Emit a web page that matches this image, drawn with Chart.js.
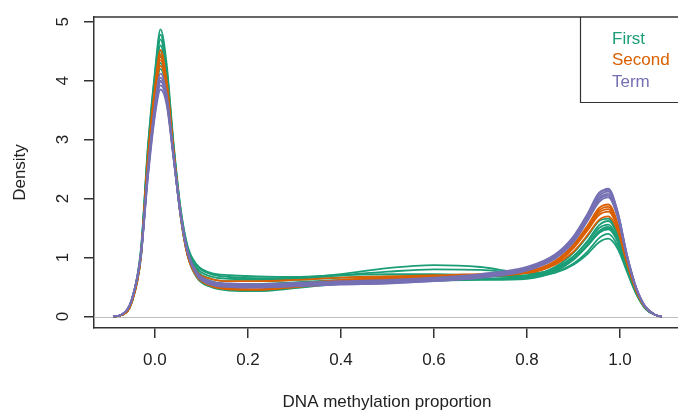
<!DOCTYPE html>
<html>
<head>
<meta charset="utf-8">
<script src="https://cdn.jsdelivr.net/npm/chart.js@4/dist/chart.umd.min.js"></script>
<style>
  html, body { margin: 0; padding: 0; background: #fff; overflow: hidden; }
  #wrap { width: 678px; height: 411px; position: relative; }
</style>
</head>
<body>
<div id="wrap"><canvas id="densityChart"></canvas></div>
<script>
// x positions (DNA methylation proportion) where the densities were read
const xs = [-0.09, -0.07, -0.05, -0.03, -0.015, 0.0, 0.012, 0.025, 0.04, 0.055, 0.07, 0.09, 0.12, 0.16, 0.22, 0.3,
  0.4, 0.5, 0.6, 0.7, 0.8, 0.86, 0.9, 0.93, 0.955, 0.975, 0.995, 1.015, 1.035, 1.055, 1.075, 1.09];

// First trimester samples
const firstCurves = [
  [0, 0.03, 0.27, 1.15, 2.9, 4.15, 4.87, 4.3, 2.95, 1.85, 1.2, 0.88, 0.74, 0.7, 0.68, 0.67, 0.7, 0.72, 0.72, 0.7, 0.68, 0.74, 0.88, 1.06, 1.26, 1.32, 1.15, 0.76, 0.38, 0.13, 0.03, 0],
  [0, 0.03, 0.26, 1.12, 2.85, 4.1, 4.78, 4.2, 2.9, 1.82, 1.18, 0.86, 0.72, 0.67, 0.65, 0.66, 0.72, 0.82, 0.87, 0.84, 0.74, 0.76, 0.9, 1.1, 1.33, 1.4, 1.2, 0.78, 0.39, 0.13, 0.03, 0],
  [0, 0.03, 0.26, 1.1, 2.8, 4.0, 4.7, 4.15, 2.88, 1.8, 1.15, 0.82, 0.68, 0.64, 0.63, 0.64, 0.7, 0.76, 0.8, 0.79, 0.73, 0.8, 0.98, 1.2, 1.42, 1.48, 1.27, 0.8, 0.4, 0.14, 0.03, 0],
  [0, 0.03, 0.25, 1.08, 2.75, 3.95, 4.6, 4.05, 2.85, 1.78, 1.12, 0.78, 0.64, 0.6, 0.6, 0.62, 0.66, 0.68, 0.68, 0.68, 0.7, 0.82, 1.02, 1.26, 1.5, 1.56, 1.33, 0.83, 0.41, 0.14, 0.03, 0],
  [0, 0.03, 0.25, 1.07, 2.7, 3.88, 4.5, 4.0, 2.82, 1.76, 1.1, 0.75, 0.6, 0.55, 0.55, 0.58, 0.62, 0.64, 0.64, 0.64, 0.66, 0.78, 0.98, 1.22, 1.45, 1.52, 1.3, 0.82, 0.4, 0.14, 0.03, 0],
  [0, 0.03, 0.24, 1.05, 2.65, 3.82, 4.42, 3.95, 2.8, 1.74, 1.08, 0.72, 0.56, 0.5, 0.5, 0.54, 0.6, 0.62, 0.62, 0.63, 0.67, 0.8, 1.02, 1.28, 1.55, 1.62, 1.38, 0.86, 0.42, 0.15, 0.03, 0],
  [0, 0.03, 0.24, 1.03, 2.6, 3.75, 4.3, 3.88, 2.76, 1.72, 1.06, 0.68, 0.52, 0.46, 0.45, 0.5, 0.58, 0.6, 0.61, 0.62, 0.64, 0.76, 0.96, 1.2, 1.42, 1.5, 1.28, 0.82, 0.4, 0.14, 0.03, 0],
  [0, 0.03, 0.23, 1.0, 2.55, 3.68, 4.2, 3.8, 2.72, 1.7, 1.04, 0.66, 0.5, 0.44, 0.43, 0.48, 0.56, 0.6, 0.62, 0.64, 0.68, 0.84, 1.08, 1.36, 1.62, 1.66, 1.4, 0.87, 0.42, 0.15, 0.03, 0]
];

// Second trimester samples
const secondCurves = [
  [0, 0.03, 0.25, 1.06, 2.7, 3.88, 4.52, 4.0, 2.8, 1.74, 1.06, 0.7, 0.54, 0.48, 0.46, 0.5, 0.58, 0.62, 0.66, 0.7, 0.76, 0.92, 1.18, 1.48, 1.76, 1.82, 1.52, 0.92, 0.44, 0.15, 0.03, 0],
  [0, 0.03, 0.25, 1.05, 2.68, 3.85, 4.45, 3.98, 2.82, 1.76, 1.1, 0.76, 0.64, 0.6, 0.6, 0.62, 0.66, 0.68, 0.7, 0.72, 0.74, 0.88, 1.1, 1.38, 1.64, 1.7, 1.45, 0.9, 0.43, 0.15, 0.03, 0],
  [0, 0.03, 0.24, 1.04, 2.64, 3.8, 4.35, 3.92, 2.78, 1.72, 1.04, 0.68, 0.52, 0.46, 0.45, 0.5, 0.56, 0.6, 0.64, 0.68, 0.75, 0.94, 1.22, 1.54, 1.84, 1.9, 1.58, 0.95, 0.45, 0.15, 0.03, 0],
  [0, 0.03, 0.24, 1.02, 2.6, 3.74, 4.25, 3.86, 2.76, 1.72, 1.06, 0.7, 0.55, 0.5, 0.5, 0.55, 0.62, 0.66, 0.68, 0.7, 0.74, 0.9, 1.16, 1.46, 1.72, 1.78, 1.5, 0.92, 0.44, 0.15, 0.03, 0],
  [0, 0.03, 0.25, 1.05, 2.66, 3.82, 4.4, 3.95, 2.8, 1.73, 1.05, 0.69, 0.53, 0.47, 0.46, 0.52, 0.6, 0.64, 0.67, 0.7, 0.76, 0.93, 1.2, 1.5, 1.8, 1.86, 1.55, 0.93, 0.44, 0.15, 0.03, 0]
];

// Term samples
const termCurves = [
  [0, 0.04, 0.28, 1.08, 2.5, 3.6, 4.12, 3.78, 2.75, 1.75, 1.1, 0.72, 0.56, 0.52, 0.51, 0.53, 0.56, 0.58, 0.62, 0.68, 0.8, 1.0, 1.3, 1.66, 2.0, 2.08, 1.72, 1.02, 0.48, 0.16, 0.03, 0],
  [0, 0.04, 0.28, 1.06, 2.45, 3.52, 4.0, 3.7, 2.72, 1.76, 1.12, 0.74, 0.58, 0.54, 0.53, 0.55, 0.58, 0.6, 0.64, 0.7, 0.82, 1.03, 1.34, 1.72, 2.08, 2.17, 1.78, 1.05, 0.49, 0.16, 0.03, 0],
  [0, 0.04, 0.28, 1.05, 2.4, 3.46, 3.92, 3.66, 2.7, 1.74, 1.1, 0.72, 0.56, 0.52, 0.5, 0.52, 0.55, 0.57, 0.6, 0.66, 0.78, 0.98, 1.26, 1.62, 1.94, 2.02, 1.68, 1.0, 0.47, 0.16, 0.03, 0],
  [0, 0.04, 0.29, 1.04, 2.36, 3.4, 3.85, 3.6, 2.68, 1.74, 1.12, 0.75, 0.6, 0.56, 0.55, 0.57, 0.6, 0.62, 0.66, 0.72, 0.84, 1.05, 1.36, 1.74, 2.1, 2.15, 1.76, 1.04, 0.48, 0.16, 0.03, 0],
  [0, 0.04, 0.28, 1.06, 2.44, 3.5, 3.98, 3.68, 2.7, 1.73, 1.08, 0.7, 0.54, 0.5, 0.49, 0.51, 0.54, 0.56, 0.6, 0.66, 0.79, 0.99, 1.28, 1.64, 1.98, 2.05, 1.7, 1.01, 0.47, 0.16, 0.03, 0],
  [0, 0.04, 0.28, 1.07, 2.48, 3.56, 4.05, 3.74, 2.73, 1.75, 1.1, 0.73, 0.57, 0.53, 0.52, 0.54, 0.57, 0.59, 0.63, 0.69, 0.81, 1.01, 1.32, 1.7, 2.04, 2.12, 1.75, 1.03, 0.48, 0.16, 0.03, 0]
];

const groupNames = ['First', 'Second', 'Term'];
const groupColors = ['#1B9E77', '#D95F02', '#7570B3'];
const xTicks = [0.0, 0.2, 0.4, 0.6, 0.8, 1.0];
const yTicks = [0, 1, 2, 3, 4, 5];

const FONT = '"Liberation Sans", Arial, Helvetica, sans-serif';

const datasets = [];
[firstCurves, secondCurves, termCurves].forEach((curves, g) => {
  curves.forEach((vals, i) => {
    datasets.push({
      label: groupNames[g] + ' ' + (i + 1),
      data: vals.map((v, k) => ({ x: xs[k], y: v })),
      borderColor: groupColors[g],
      borderWidth: 1.8,
      pointRadius: 0,
      fill: false,
      cubicInterpolationMode: 'monotone',
      order: 3 - g
    });
  });
});

const decorations = {
  id: 'decorations',
  beforeDatasetsDraw(chart) {
    const ctx = chart.ctx, ca = chart.chartArea;
    const y0 = chart.scales.y.getPixelForValue(0);
    ctx.save();
    ctx.strokeStyle = '#bdbdbd';
    ctx.lineWidth = 1;
    ctx.beginPath();
    ctx.moveTo(ca.left, Math.round(y0) + 0.5);
    ctx.lineTo(ca.right, Math.round(y0) + 0.5);
    ctx.stroke();
    ctx.restore();
  },
  afterDraw(chart) {
    const ctx = chart.ctx, ca = chart.chartArea, ys = chart.scales.y;
    ctx.save();
    // top of the box
    ctx.strokeStyle = '#333';
    ctx.lineWidth = 1.5;
    ctx.beginPath();
    ctx.moveTo(ca.left, ca.top);
    ctx.lineTo(ca.right, ca.top);
    ctx.stroke();

    ctx.fillStyle = '#222';
    ctx.font = '17px ' + FONT;
    ctx.textAlign = 'center';
    ctx.textBaseline = 'middle';
    yTicks.forEach(v => {
      ctx.save();
      ctx.translate(63, ys.getPixelForValue(v));
      ctx.rotate(-Math.PI / 2);
      ctx.fillText(String(v), 0, 0);
      ctx.restore();
    });
    ctx.save();
    ctx.translate(20, (ca.top + ca.bottom) / 2);
    ctx.rotate(-Math.PI / 2);
    ctx.fillText('Density', 0, 0);
    ctx.restore();
    ctx.fillText('DNA methylation proportion', 387, 402);

    // legend
    ctx.strokeStyle = '#333';
    ctx.lineWidth = 1.2;
    ctx.beginPath();
    ctx.moveTo(ca.right + 2, 102.5);
    ctx.lineTo(580.5, 102.5);
    ctx.lineTo(580.5, ca.top);
    ctx.stroke();
    ctx.textAlign = 'left';
    groupNames.forEach((name, i) => {
      ctx.fillStyle = groupColors[i];
      ctx.fillText(name, 612, 39 + i * 21.5);
    });
    ctx.restore();
  }
};

new Chart(document.getElementById('densityChart'), {
  type: 'line',
  data: { datasets },
  options: {
    responsive: true,
    maintainAspectRatio: false,
    animation: false,
    devicePixelRatio: 1,
    layout: { padding: { top: 17, right: 0, left: 0, bottom: 0 } },
    plugins: { legend: { display: false }, tooltip: { enabled: false } },
    scales: {
      x: {
        type: 'linear',
        min: -0.131,
        max: 1.1247,
        afterBuildTicks: s => { s.ticks = xTicks.map(v => ({ value: v })); },
        afterFit: s => { s.height = 83; },
        grid: { drawOnChartArea: false, drawTicks: true, tickLength: 10, color: '#333', lineWidth: 1.5 },
        border: { display: true, color: '#333', width: 1.5 },
        ticks: {
          color: '#222',
          font: { size: 17, family: FONT },
          padding: 12,
          maxRotation: 0,
          autoSkip: false,
          callback: v => v.toFixed(1)
        }
      },
      y: {
        type: 'linear',
        min: -0.195,
        max: 5.08,
        afterBuildTicks: s => { s.ticks = yTicks.map(v => ({ value: v })); },
        afterFit: s => { s.width = 94; },
        grid: { drawOnChartArea: false, drawTicks: true, tickLength: 10, color: '#333', lineWidth: 1.5 },
        border: { display: true, color: '#333', width: 1.5 },
        ticks: { display: false }
      }
    }
  },
  plugins: [decorations]
});
</script>
</body>
</html>
